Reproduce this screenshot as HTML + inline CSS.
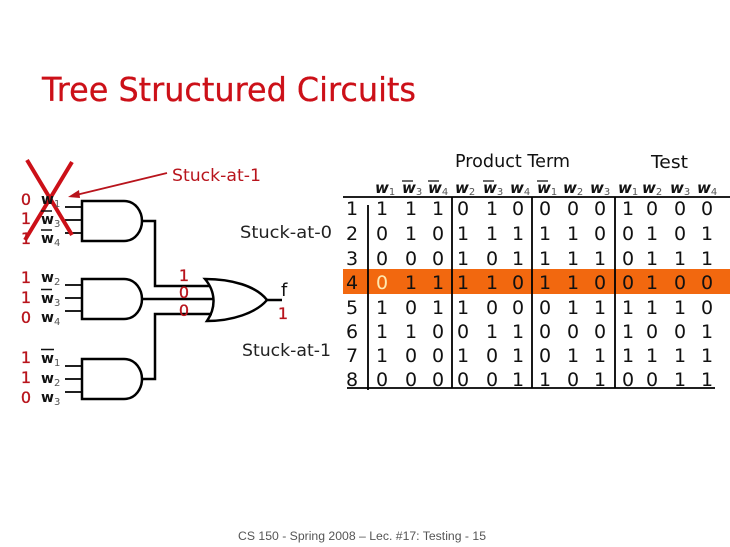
<!DOCTYPE html>
<html><head><meta charset="utf-8"><style>
html,body{margin:0;padding:0;background:#fff;width:730px;height:547px;overflow:hidden}
svg{display:block}
text{font-family:"DejaVu Sans",sans-serif}
.d{font-size:19px;fill:#111;text-anchor:middle}
.r{font-size:16px;fill:#b8141c;text-anchor:middle;stroke:#b8141c;stroke-width:.3}
.w{font-size:14px;fill:#111}
.s{font-size:10px;fill:#555}
.h{font-size:15px;fill:#111;font-weight:bold;font-style:italic}
.hs{font-size:10px;fill:#555;font-weight:normal;font-style:normal}
.l{font-size:17px;fill:#222}
.g{fill:none;stroke:#000;stroke-width:2.5}
.t{fill:none;stroke:#000;stroke-width:1.7}
</style></head><body>
<svg width="730" height="547" viewBox="0 0 730 547" xmlns="http://www.w3.org/2000/svg">
<rect width="730" height="547" fill="#fff"/>
<text x="42" y="101" font-size="33" fill="#cc1018" stroke="#cc1018" stroke-width=".3" textLength="374" lengthAdjust="spacingAndGlyphs">Tree Structured Circuits</text>

<!-- gates -->
<path class="g" d="M82 201H124C136 201 142 212 142 221C142 230 136 241 124 241H82Z"/>
<path class="g" d="M82 279H124C136 279 142 290 142 299C142 308 136 319 124 319H82Z"/>
<path class="g" d="M82 359H124C136 359 142 370 142 379C142 388 136 399 124 399H82Z"/>
<path class="t" d="M65 207H82M65 220H82M65 233H82M65 285H82M65 298H82M65 311H82M65 366H82M65 379H82M65 392H82"/>
<path class="g" d="M142 221H155V286H210M142 299H214M142 379H155V314H212"/>
<path class="g" d="M205 279C232 279 256 286 267 300C256 313 232 321 207 321C216 308 216 292 205 279Z"/>
<path class="g" d="M267 300H282"/>

<!-- X and arrow -->
<path d="M27 160L72 235M72 162L25 240" stroke="#cc1018" stroke-width="4" fill="none"/>
<path d="M167 173L76 195" stroke="#b8141c" stroke-width="1.8" fill="none"/>
<path d="M68 197L79 190L80 198Z" fill="#b8141c"/>
<text x="172" y="181" font-size="17" fill="#b8141c" textLength="89" lengthAdjust="spacingAndGlyphs">Stuck-at-1</text>

<text class="l" x="240" y="238" textLength="92" lengthAdjust="spacingAndGlyphs">Stuck-at-0</text>
<text class="l" x="242" y="356" textLength="89" lengthAdjust="spacingAndGlyphs">Stuck-at-1</text>

<!-- input values -->
<text class="r" x="26" y="205">0</text><text class="r" x="26" y="224">1</text><text class="r" x="26" y="244">1</text>
<text class="r" x="26" y="283">1</text><text class="r" x="26" y="303">1</text><text class="r" x="26" y="323">0</text>
<text class="r" x="26" y="363">1</text><text class="r" x="26" y="383">1</text><text class="r" x="26" y="403">0</text>
<text class="r" x="184" y="281">1</text><text class="r" x="184" y="298">0</text><text class="r" x="184" y="316">0</text>
<text class="r" x="283" y="319">1</text>
<text x="281" y="296" font-size="18" fill="#111">f</text>

<!-- input labels -->
<g class="w">
<text class="w" x="41" y="204" font-weight="bold">w<tspan class="s" font-weight="normal" dy="3">1</tspan></text>
<text class="w" x="41" y="224" font-weight="bold">w<tspan class="s" font-weight="normal" dy="3">3</tspan></text>
<text class="w" x="41" y="243" font-weight="bold">w<tspan class="s" font-weight="normal" dy="3">4</tspan></text>
<text class="w" x="41" y="282" font-weight="bold">w<tspan class="s" font-weight="normal" dy="3">2</tspan></text>
<text class="w" x="41" y="303" font-weight="bold">w<tspan class="s" font-weight="normal" dy="3">3</tspan></text>
<text class="w" x="41" y="322" font-weight="bold">w<tspan class="s" font-weight="normal" dy="3">4</tspan></text>
<text class="w" x="41" y="363" font-weight="bold">w<tspan class="s" font-weight="normal" dy="3">1</tspan></text>
<text class="w" x="41" y="383" font-weight="bold">w<tspan class="s" font-weight="normal" dy="3">2</tspan></text>
<text class="w" x="41" y="402" font-weight="bold">w<tspan class="s" font-weight="normal" dy="3">3</tspan></text>
</g>
<path d="M41 211H52M41 230H52M41 349.500H54" stroke="#111" stroke-width="1.500" fill="none"/>
<path d="M41 289.500H52" stroke="#111" stroke-width="1.500" fill="none"/>

<!-- table headers -->
<text x="455" y="167" font-size="18" fill="#111" textLength="115" lengthAdjust="spacingAndGlyphs">Product Term</text>
<text x="651" y="168" font-size="18" fill="#111" textLength="37" lengthAdjust="spacingAndGlyphs">Test</text>

<text class="h" x="375" y="193">w<tspan class="hs" dy="2">1</tspan></text>
<text class="h" x="402" y="193">w<tspan class="hs" dy="2">3</tspan></text>
<text class="h" x="428" y="193">w<tspan class="hs" dy="2">4</tspan></text>
<text class="h" x="455" y="193">w<tspan class="hs" dy="2">2</tspan></text>
<text class="h" x="483" y="193">w<tspan class="hs" dy="2">3</tspan></text>
<text class="h" x="510" y="193">w<tspan class="hs" dy="2">4</tspan></text>
<text class="h" x="537" y="193">w<tspan class="hs" dy="2">1</tspan></text>
<text class="h" x="563" y="193">w<tspan class="hs" dy="2">2</tspan></text>
<text class="h" x="590" y="193">w<tspan class="hs" dy="2">3</tspan></text>
<text class="h" x="618" y="193">w<tspan class="hs" dy="2">1</tspan></text>
<text class="h" x="642" y="193">w<tspan class="hs" dy="2">2</tspan></text>
<text class="h" x="670" y="193">w<tspan class="hs" dy="2">3</tspan></text>
<text class="h" x="697" y="193">w<tspan class="hs" dy="2">4</tspan></text>
<path d="M402 181H413M428 181H439M483 181H494M537 181H548" stroke="#111" stroke-width="1.300" fill="none"/>

<!-- orange row -->
<rect x="343" y="269" width="387" height="25" fill="#f2680f"/>

<!-- table body -->
<g>
<text class="d" y="215" x="352">1</text><text class="d" y="240" x="352">2</text><text class="d" y="265" x="352">3</text><text class="d" y="289" x="352">4</text><text class="d" y="314" x="352">5</text><text class="d" y="338" x="352">6</text><text class="d" y="362" x="352">7</text><text class="d" y="386" x="352">8</text>
<text class="d" y="215" x="382 411 438 463 492 518 545 573 600 628 652 680 707">1110100001000</text>
<text class="d" y="240" x="382 411 438 463 492 518 545 573 600 628 652 680 707">0101111100101</text>
<text class="d" y="265" x="382 411 438 463 492 518 545 573 600 628 652 680 707">0001011110111</text>
<text class="d" y="289" x="382" style="fill:#ffe9b0">0</text>
<text class="d" y="289" x="411 438 463 492 518 545 573 600 628 652 680 707">111101100100</text>
<text class="d" y="314" x="382 411 438 463 492 518 545 573 600 628 652 680 707">1011000111110</text>
<text class="d" y="338" x="382 411 438 463 492 518 545 573 600 628 652 680 707">1100110001001</text>
<text class="d" y="362" x="382 411 438 463 492 518 545 573 600 628 652 680 707">1001010111111</text>
<text class="d" y="386" x="382 411 438 463 492 518 545 573 600 628 652 680 707">0000011010011</text>
</g>
<path d="M343 197H730M347 388H715" stroke="#000" stroke-width="1.800" fill="none"/>
<path d="M368 205V390M452 197V388M532 197V388M615 197V388" stroke="#000" stroke-width="1.800" fill="none"/>

<text x="238" y="540" font-size="11.500" fill="#555" style="font-family:'Liberation Sans',sans-serif" textLength="248" lengthAdjust="spacingAndGlyphs">CS 150 - Spring  2008 – Lec. #17: Testing - 15</text>
</svg>
</body></html>
